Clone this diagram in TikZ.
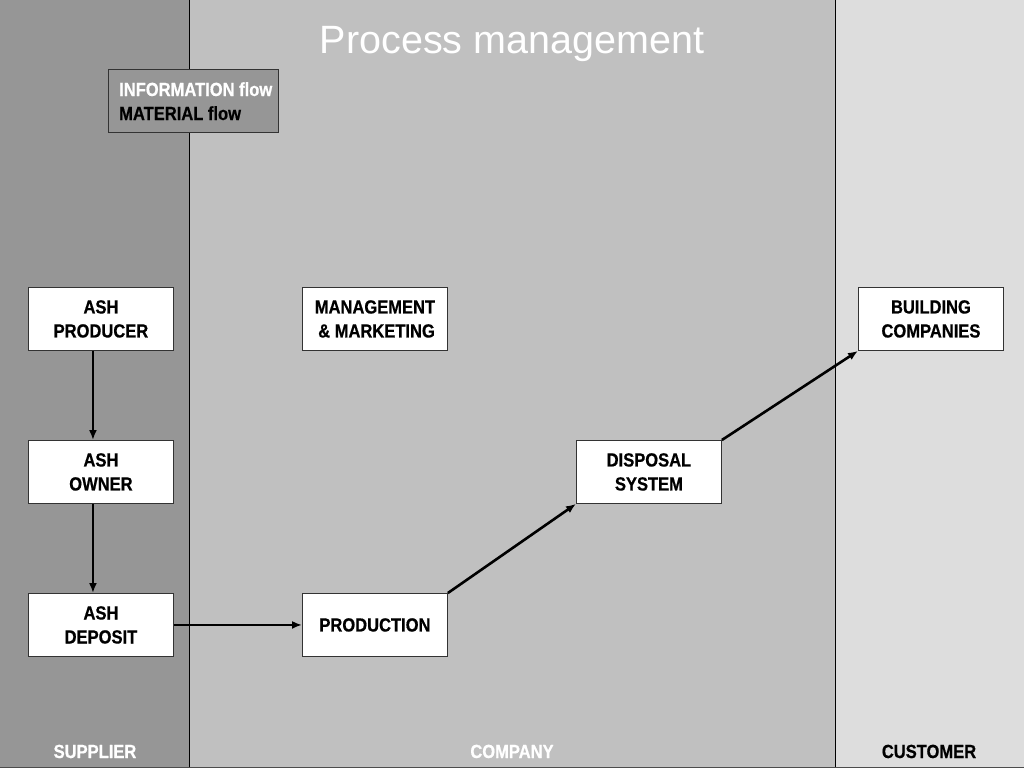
\documentclass[tikz,border=0pt]{standalone}
\usepackage{fontspec}
\setmainfont{Liberation Sans}
\newfontfamily\narrowbf[FakeStretch=0.87,FakeBold=0.6]{Liberation Sans Bold}
\usetikzlibrary{arrows.meta}
\definecolor{supgray}{HTML}{969696}
\definecolor{comgray}{HTML}{C0C0C0}
\definecolor{cusgray}{HTML}{DDDDDD}
\tikzset{
  unitbox/.style={draw=black!80, line width=0.9pt, fill=white, minimum width=145pt, minimum height=63pt, inner sep=0pt, align=center, font=\narrowbf\fontsize{19}{24}\selectfont, anchor=north west},
  flowarrow/.style={-{Latex[length=10pt,width=8pt]}, line width=2.6pt, black},
  bandlabel/.style={font=\narrowbf\fontsize{19}{22}\selectfont, anchor=base}
}
\begin{document}
\begin{tikzpicture}[x=1pt,y=-1pt]
\useasboundingbox (0,0) rectangle (1024,768);
% bands
\fill[supgray] (0,0) rectangle (189,768);
\fill[comgray] (189,0) rectangle (835,768);
\fill[cusgray] (835,0) rectangle (1024,768);
\draw[black, line width=1pt] (189,0) -- (189,768);
\draw[black, line width=1pt] (835,0) -- (835,768);
\draw[black!70, line width=1.2pt] (0,767.4) -- (1024,767.4);
% title
\node[text=white, font=\fontsize{39.5}{44}\selectfont, anchor=base] (title) at (512,54) {Process management};
% legend
\node[draw=black!80, line width=0.9pt, fill=supgray, minimum width=170pt, minimum height=63pt, anchor=north west, inner sep=0pt] (legend) at (108,69) {};
\node[anchor=base west, inner sep=0pt, text=white, font=\narrowbf\fontsize{19}{22}\selectfont] (infoflow) at (119,96) {INFORMATION flow};
\node[anchor=base west, inner sep=0pt, text=black, font=\narrowbf\fontsize{19}{22}\selectfont] (matflow) at (119,120) {MATERIAL flow};
% boxes
\node[unitbox] (producer) at (28,287) {ASH\\PRODUCER};
\node[unitbox] (owner) at (28,440) {ASH\\OWNER};
\node[unitbox] (deposit) at (28,593) {ASH\\DEPOSIT};
\node[unitbox] (mgmt) at (302,287) {MANAGEMENT\\\,\& MARKETING};
\node[unitbox] (production) at (302,593) {PRODUCTION};
\node[unitbox] (disposal) at (576,440) {DISPOSAL\\SYSTEM};
\node[unitbox] (building) at (858,287) {BUILDING\\COMPANIES};
% arrows
\draw[flowarrow] ([xshift=-8pt]producer.south) -- ([xshift=-8pt]owner.north);
\draw[flowarrow] ([xshift=-8pt]owner.south) -- ([xshift=-8pt]deposit.north);
\draw[flowarrow] (deposit.east) -- (production.west);
\draw[flowarrow] (production.north east) -- (disposal.south west);
\draw[flowarrow] (disposal.north east) -- (building.south west);
% band labels
\node[bandlabel, text=white] (supplier) at (95,758) {SUPPLIER};
\node[bandlabel, text=white] (company) at (512,758) {COMPANY};
\node[bandlabel, text=black] (customer) at (929,758) {CUSTOMER};
\end{tikzpicture}
\end{document}
